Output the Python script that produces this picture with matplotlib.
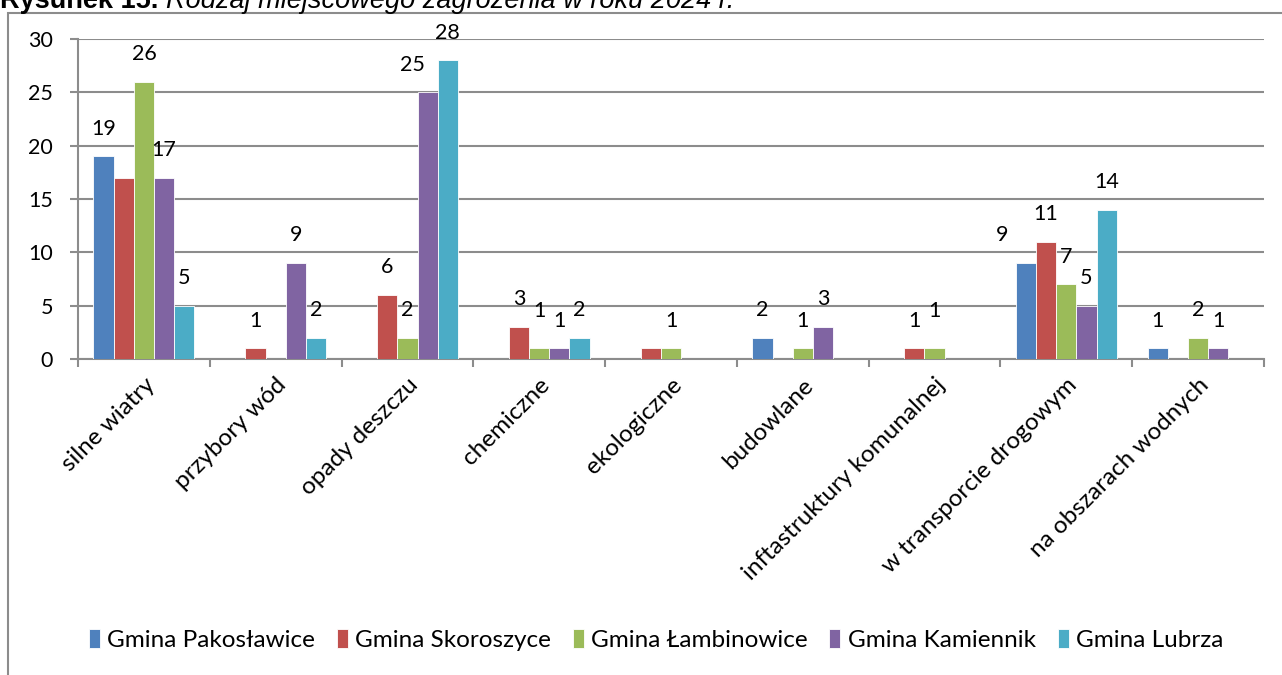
import numpy as np
import matplotlib
matplotlib.use("Agg")
import matplotlib.pyplot as plt
from matplotlib.patches import Rectangle

categories = ["silne wiatry", "przybory wód", "opady deszczu", "chemiczne",
              "ekologiczne", "budowlane", "inftastruktury komunalnej",
              "w transporcie drogowym", "na obszarach wodnych"]
series = ["Gmina Pakosławice", "Gmina Skoroszyce", "Gmina Łambinowice",
          "Gmina Kamiennik", "Gmina Lubrza"]
pakoslawice = [19, 0, 0, 0, 0, 2, 0, 9, 1]
skoroszyce = [17, 1, 6, 3, 1, 0, 1, 11, 0]
lambinowice = [26, 0, 2, 1, 1, 1, 1, 7, 2]
kamiennik = [17, 9, 25, 1, 0, 3, 0, 5, 1]
lubrza = [5, 2, 28, 2, 0, 0, 0, 14, 0]
values = [pakoslawice, skoroszyce, lambinowice, kamiennik, lubrza]
colors = ["#4F81BD", "#C0504D", "#9BBB59", "#8064A2", "#4BACC6"]

# labels the original chart leaves out / nudges (category, series)
hidden = {(0, 1), (4, 1)}
nudge = {(2, 3): (-11, 0), (7, 0): (-17, 0), (3, 2): (0, 7), (6, 2): (0, 7)}

plt.rcParams['font.family'] = ['Lato', 'DejaVu Sans']

W, H = 1282, 675
fig = plt.figure(figsize=(W / 100, H / 100), dpi=100)

# outer chart frame (partly outside the image)
fig.patches.append(Rectangle((8 / W, -0.1), 1.2, 1 - 13 / H + 0.1,
                             transform=fig.transFigure, fill=False,
                             edgecolor="#8c8c8c", linewidth=1.5))

# caption at the very top, cut by the image edge as in the original
t = fig.text(0.0, 1 - 8 / H, "Rysunek 15. ", fontsize=19.5, fontweight="bold",
             family="Liberation Sans", va="baseline", ha="left")
fig.canvas.draw()
bb = t.get_window_extent()
fig.text(bb.x1 / W, 1 - 8 / H, "Rodzaj miejscowego zagrożenia w roku 2024 r.",
         fontsize=19.5, fontstyle="italic", family="Liberation Sans",
         va="baseline", ha="left")

ax = fig.add_axes([78 / W, 1 - 359 / H, (1264 - 78) / W, (359 - 39) / H])

n = len(series)
bw = 0.153
x = np.arange(len(categories)) + 0.5
for j in range(n):
    pos = x + (j - (n - 1) / 2) * bw
    ax.bar(pos, values[j], width=bw, color=colors[j], edgecolor="white",
           linewidth=0.6, label=series[j], zorder=3)
    for i, v in enumerate(values[j]):
        if v == 0 or (i, j) in hidden:
            continue
        dx, dy = nudge.get((i, j), (0, 0))
        ax.annotate(str(v), (pos[i], v), xytext=(dx, 20 + dy),
                    textcoords="offset points", ha="center", va="center",
                    fontsize=15.5, zorder=4)

ax.set_xlim(0, len(categories))
ax.set_ylim(0, 30)
ax.set_yticks(range(0, 31, 5))
ax.yaxis.grid(True, color="#8c8c8c", linewidth=1.5, zorder=0)
ax.set_axisbelow(True)

ax.set_xticks(np.arange(len(categories) + 1))
ax.set_xticklabels([])
ax.set_xticks(x, minor=True)
ax.set_xticklabels(categories, minor=True, rotation=45, ha="right",
                   va="top", rotation_mode="anchor", fontsize=17.5)
ax.tick_params(axis="x", which="minor", length=0, pad=11)
ax.tick_params(axis="x", which="major", length=6, width=1.5, color="#8c8c8c")
ax.tick_params(axis="y", length=6, width=1.5, color="#8c8c8c", pad=12,
               labelsize=15.5)

for s in ["top", "right"]:
    ax.spines[s].set_visible(False)
for s in ["left", "bottom"]:
    ax.spines[s].set_color("#8c8c8c")
    ax.spines[s].set_linewidth(1.5)

fig.legend(loc="center", bbox_to_anchor=(656 / W, 1 - 640 / H), ncol=5,
           frameon=False, fontsize=17.5, handlelength=0.45, handleheight=0.8,
           handletextpad=0.3, columnspacing=0.9)

fig.savefig("out.png", dpi=100)
